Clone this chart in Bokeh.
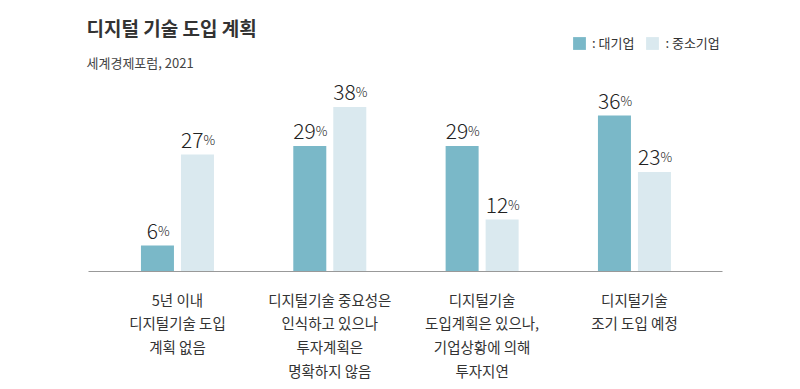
from bokeh.plotting import figure
from bokeh.models import Range1d, ColumnDataSource, Label, Legend, LegendItem
from bokeh.core.properties import value
from bokeh.embed import file_html
from bokeh.resources import INLINE

# ---- data ----
categories = [
    "5년 이내\n디지털기술 도입\n계획 없음",
    "디지털기술 중요성은\n인식하고 있으나\n투자계획은\n명확하지 않음",
    "디지털기술\n도입계획은 있으나,\n기업상황에 의해\n투자지연",
    "디지털기술\n조기 도입 예정",
]
large_firms = [6, 29, 29, 36]
small_firms = [27, 38, 12, 23]
series_names = [": 대기업", ": 중소기업"]
title_text = "디지털 기술 도입 계획"
source_text = "세계경제포럼, 2021"

DARK = "#7ab8c8"
LIGHT = "#dae9ef"
FONT = "Noto Sans CJK KR"
NUM_FONT = "Noto Sans CJK KR Light"

W, H = 792, 381
PX_PER_X = 152.33
PX_PER_Y = 4.33
X0_PX = 88        # figure x of axis start
X_START = -0.584  # data x at axis start
X_END = 3.578
BASE_PX = 110     # baseline, px from bottom

x_lo = X_START - X0_PX / PX_PER_X
x_hi = x_lo + W / PX_PER_X
y_lo = -BASE_PX / PX_PER_Y
y_hi = y_lo + H / PX_PER_Y

p = figure(width=W, height=H, output_backend="svg", toolbar_location=None,
           x_range=Range1d(x_lo, x_hi), y_range=Range1d(y_lo, y_hi),
           min_border=0, outline_line_color=None)
p.axis.visible = False
p.grid.visible = False
p.background_fill_color = "white"
p.border_fill_color = "white"

xs = list(range(len(categories)))
off = 20 / PX_PER_X
bw = 33 / PX_PER_X

src = ColumnDataSource(dict(
    x=xs,
    xd=[x - off for x in xs],
    xl=[x + off for x in xs],
    big=large_firms,
    small=small_firms,
    big_num=[str(v) for v in large_firms],
    small_num=[str(v) for v in small_firms],
    big_lab_y=[v + 15 / PX_PER_Y for v in large_firms],
    small_lab_y=[v + 15 / PX_PER_Y for v in small_firms],
    big_shift=[(len(str(v)) * 11 - 13) / 2 + 1.5 for v in large_firms],
    small_shift=[(len(str(v)) * 11 - 13) / 2 + 1.5 for v in small_firms],
    pct=["%"] * len(xs),
    cat=categories,
))

r1 = p.vbar(x="xd", top="big", bottom=0, width=bw, source=src,
            fill_color=DARK, line_color=None)
r2 = p.vbar(x="xl", top="small", bottom=0, width=bw, source=src,
            fill_color=LIGHT, line_color=None)

# baseline
p.segment(x0=[X_START], y0=[0], x1=[X_END], y1=[0], line_color="#999999", line_width=1.2)

# value labels: number + small %
for xcol, ycol, ncol, scol in (("xd", "big_lab_y", "big_num", "big_shift"),
                               ("xl", "small_lab_y", "small_num", "small_shift")):
    p.text(x=xcol, y=ycol, text=ncol, source=src, x_offset=scol,
           text_font=value(NUM_FONT), text_font_size="21px", text_color="#222222",
           text_align="right", text_baseline="alphabetic")
    p.text(x=xcol, y=ycol, text="pct", source=src, x_offset=scol,
           text_font=value(NUM_FONT), text_font_size="13px", text_color="#222222",
           text_align="left", text_baseline="alphabetic")

# category labels
p.text(x="x", y=-17 / PX_PER_Y, text="cat", source=src,
       text_font=value(FONT), text_font_size="14.5px", text_color="#333333",
       text_align="center", text_baseline="top", text_line_height=1.14)

# title & source
p.add_layout(Label(x=86, y=H - 27, x_units="screen", y_units="screen", text=title_text,
                   text_font=FONT, text_font_size="19px", text_font_style="bold",
                   text_color="#333333", text_baseline="middle"))
p.add_layout(Label(x=86, y=H - 62, x_units="screen", y_units="screen", text=source_text,
                   text_font=FONT, text_font_size="13px",
                   text_color="#444444", text_baseline="middle"))

legend = Legend(items=[LegendItem(label=series_names[0], renderers=[r1]),
                       LegendItem(label=series_names[1], renderers=[r2])],
                orientation="horizontal", location=(571, H - 52),
                glyph_width=16, glyph_height=16, label_standoff=5, spacing=10,
                padding=0, margin=0, background_fill_alpha=0, border_line_color=None,
                label_text_font=FONT, label_text_font_size="13px",
                label_text_color="#333333", label_height=16)
p.add_layout(legend)

open("out.html", "w").write(file_html(p, INLINE))
